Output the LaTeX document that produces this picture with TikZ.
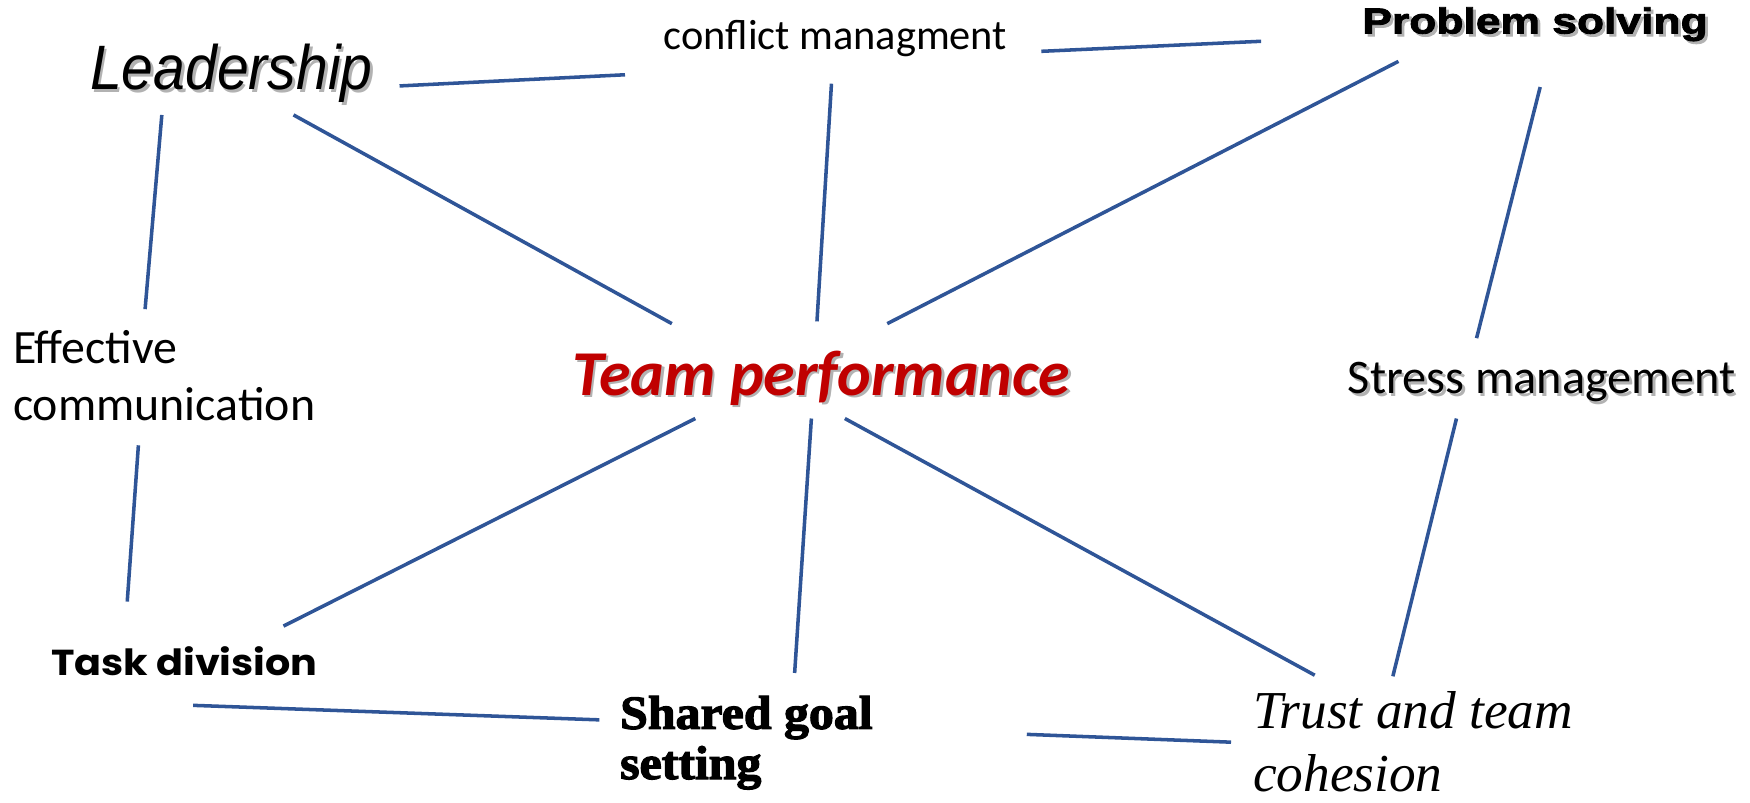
\documentclass[tikz,border=0pt]{standalone}
\usepackage{fontspec}
\setmainfont{Carlito}
\newfontfamily\leadfont[FakeStretch=0.91]{Liberation Sans}
\newfontfamily\blackfont[FakeStretch=1.23,FakeBold=2.4]{Liberation Sans}
\newfontfamily\gothicfont[FakeStretch=1.1]{Poppins}
\newfontfamily\posterfont[FakeStretch=1.05,FakeBold=2.6]{Liberation Serif}
\newfontfamily\bookfont{Liberation Serif}
\usetikzlibrary{positioning}
\definecolor{linkblue}{RGB}{47,85,151}
\definecolor{darkred}{RGB}{192,0,0}

% text with a soft grey copy just below and to the right
\newcommand\softshadow[1]{\makebox[0pt][l]{\kern0.7pt\raisebox{-0.7pt}{\color{black!30}#1}}#1}

\begin{document}
\begin{tikzpicture}[x=0.1mm,y=-0.1mm,
topic/.style={inner sep=0pt,anchor=base west},
link/.style={draw=linkblue,line width=0.9pt}]

\useasboundingbox (0,0) rectangle (1568,719);

% two-line topics sit on the baseline of their last line
\node[topic,font=\leadfont\itshape\fontsize{16}{19}\selectfont] (lead) at (80,80) {\softshadow{Leadership}};
\node[topic,font=\fontsize{10.8}{13}\selectfont] (conf) at (594,44) {conflict managment};
\node[topic,font=\blackfont\bfseries\fontsize{9.2}{11}\selectfont] (prob) at (1220,30) {\softshadow{Problem solving}};
\node[topic,align=left,font=\fontsize{12.2}{14.7}\selectfont] (eff) at (11,377) {Effective\\communication};
\node[topic,text=darkred,font=\bfseries\itshape\fontsize{16.3}{20}\selectfont] (team) at (512,354) {\softshadow{Team performance}};
\node[topic,font=\fontsize{12.3}{14}\selectfont] (stress) at (1207,353) {\softshadow{Stress management}};
\node[topic,font=\gothicfont\bfseries\fontsize{9.2}{11}\selectfont] (task) at (45,605) {Task division};
\node[topic,align=left,font=\posterfont\bfseries\fontsize{12.1}{12.8}\selectfont] (goal) at (555,698) {Shared goal\\setting};
\node[topic,align=left,font=\bookfont\itshape\fontsize{13.6}{15.9}\selectfont] (trust) at (1122,709) {Trust and team\\cohesion};

% top row
\draw[link] ([shift={(278,-3)}]lead.base west) -- ([shift={(-34,23)}]conf.base west);
\draw[link] ([shift={(339,2)}]conf.base west) -- ([shift={(-90,7)}]prob.base west);
% spokes round the centre
\draw[link] ([shift={(183,23)}]lead.base west) -- ([shift={(90,-64)}]team.base west);
\draw[link] ([shift={(151,31)}]conf.base west) -- ([shift={(220,-66)}]team.base west);
\draw[link] ([shift={(33,25)}]prob.base west) -- ([shift={(283,-64)}]team.base west);
\draw[link] ([shift={(111,21)}]team.base west) -- ([shift={(209,-44)}]task.base west);
\draw[link] ([shift={(215,21)}]team.base west) -- ([shift={(157,-95)}]goal.base west);
\draw[link] ([shift={(245,21)}]team.base west) -- ([shift={(56,-104)}]trust.base west);
% left and right sides
\draw[link] ([shift={(65,23)}]lead.base west) -- ([shift={(119,-100)}]eff.base west);
\draw[link] ([shift={(113,22)}]eff.base west) -- ([shift={(69,-66)}]task.base west);
\draw[link] ([shift={(160,48)}]prob.base west) -- ([shift={(116,-50)}]stress.base west);
\draw[link] ([shift={(98,22)}]stress.base west) -- ([shift={(126,-103)}]trust.base west);
% bottom row
\draw[link] ([shift={(128,27)}]task.base west) -- ([shift={(-18,-53)}]goal.base west);
\draw[link] ([shift={(365,-40)}]goal.base west) -- ([shift={(-19,-44)}]trust.base west);
\end{tikzpicture}
\end{document}
